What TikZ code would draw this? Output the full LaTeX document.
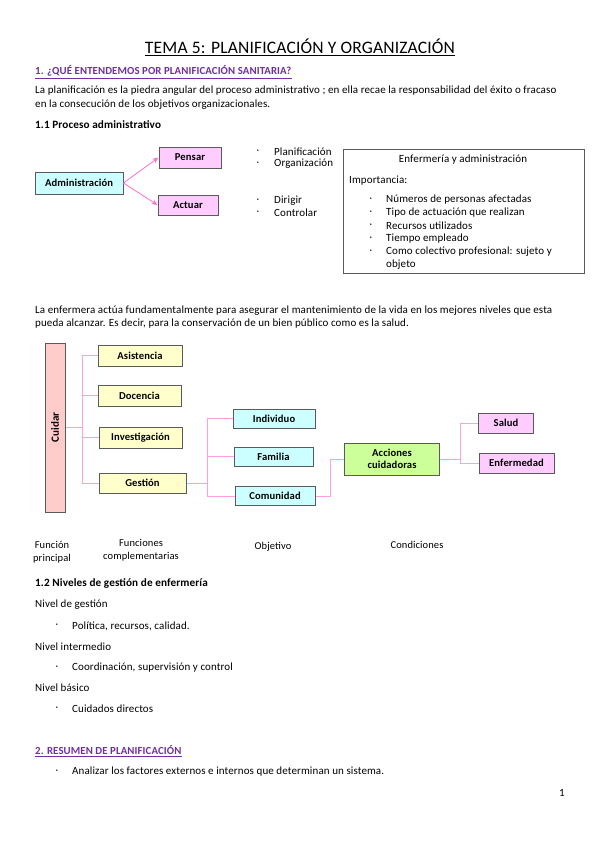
\documentclass[tikz,border=0pt]{standalone}
\usepackage{fontspec}
\setmainfont{Carlito}[LetterSpace=1]
\usetikzlibrary{arrows.meta}
\definecolor{purp}{HTML}{7030A0}
\definecolor{cyanbox}{HTML}{CCFFFF}
\definecolor{pinkbox}{HTML}{FFCCFF}
\definecolor{rosebox}{HTML}{FFCCCC}
\definecolor{yelbox}{HTML}{FFFFCC}
\definecolor{greenbox}{HTML}{CCFF99}
\definecolor{arrowpink}{HTML}{FF6FD0}
\definecolor{linepink}{HTML}{FF9FE0}
\definecolor{boxborder}{HTML}{5A5A5A}
\begin{document}
\begin{tikzpicture}[x=1pt,y=-1pt,
  txt/.style={anchor=west,inner sep=0pt,font=\fontsize{11}{13}\selectfont},
  txtc/.style={anchor=center,inner sep=0pt,align=center,font=\fontsize{10.5}{13}\selectfont},
  bold/.style={anchor=west,inner sep=0pt,font=\bfseries\fontsize{11.2}{13}\selectfont},
  head/.style={anchor=west,inner sep=0pt,text=purp,font=\bfseries\fontsize{10.8}{12}\selectfont},
  bx/.style={draw=boxborder,line width=1pt,inner sep=0pt,align=center,font=\bfseries\fontsize{10.6}{12}\selectfont},
  arr/.style={draw=arrowpink,line width=0.8pt,-{Stealth[length=6pt,width=5pt]}},
  conn/.style={draw=linepink,line width=0.9pt},
  dot/.style={anchor=center,inner sep=0pt,font=\fontsize{10}{12}\selectfont}
]
\useasboundingbox[fill=white] (0,0) rectangle (599,848);

% Title
\node[anchor=center,inner sep=0pt,font=\fontsize{17.5}{20}\selectfont] (title) at (300,46) {TEMA 5: PLANIFICACIÓN Y ORGANIZACIÓN};
\draw[line width=0.9pt] (title.south west) ++(0,2) coordinate (tul1) -- (title.south east |- tul1);

% Heading 1
\node[head] (h1) at (35,71) {1. ¿QUÉ ENTENDEMOS POR PLANIFICACIÓN SANITARIA?};
\draw[purp,line width=0.7pt] (h1.south west) ++(0,2) coordinate (hul1) -- (h1.south east |- hul1);

\node[txt] (p1a) at (35,91) {La planificación es la piedra angular del proceso administrativo ; en ella recae la responsabilidad del éxito o fracaso};
\node[txt] (p1b) at (35,105) {en la consecución de los objetivos organizacionales.};

\node[bold] (s11) at (35,125) {1.1 Proceso administrativo};

% Diagram 1
\node[bx,fill=cyanbox,minimum width=88pt,minimum height=22pt] (adm) at (79,183) {Administración};
\node[bx,fill=pinkbox,minimum width=62pt,minimum height=21pt] (pen) at (190,157.5) {Pensar};
\node[bx,fill=pinkbox,minimum width=60pt,minimum height=20pt] (act) at (188,205) {Actuar};
\draw[arr] (adm.east) -- (pen.west);
\draw[arr] (adm.east) -- (act.west);

\node[dot] (d1) at (258,152) {·};
\node[txt] (t1) at (274,152) {Planificación};
\node[dot] (d2) at (258,164) {·};
\node[txt] (t2) at (274,164) {Organización};
\node[dot] (d3) at (258,201) {·};
\node[txt] (t3) at (274,201) {Dirigir};
\node[dot] (d4) at (258,213) {·};
\node[txt] (t4) at (274,213) {Controlar};

\draw[boxborder,line width=0.8pt] (343,149) rectangle (584,273);
\node[txtc,font=\fontsize{11}{13}\selectfont] (ea) at (463,160) {Enfermería y administración};
\node[txt] (imp) at (349,181) {Importancia:};
\foreach \yy/\tt/\nm in {200/{Números de personas afectadas}/a,213/{Tipo de actuación que realizan}/b,226/{Recursos utilizados}/c,239/{Tiempo empleado}/d,252/{Como colectivo profesional: sujeto y}/e,265/{objeto}/f}{
  \node[txt] (imp\nm) at (386,\yy) {\tt};
}
\foreach \yy/\nm in {200/a,213/b,226/c,239/d,252/e}{
  \node[dot] (impd\nm) at (371,\yy) {·};
}

\node[txt] (p2a) at (35,311) {La enfermera actúa fundamentalmente para asegurar el mantenimiento de la vida en los mejores niveles que esta};
\node[txt] (p2b) at (35,324) {pueda alcanzar. Es decir, para la conservación de un bien público como es la salud.};

% Diagram 2
\node[bx,fill=rosebox,minimum width=20pt,minimum height=169pt] (cui) at (55,427.5) {};
\node[rotate=90,font=\bfseries\fontsize{11}{12}\selectfont,inner sep=0pt] (cuit) at (cui.center) {Cuidar};
\node[bx,fill=yelbox,minimum width=84pt,minimum height=21pt] (asi) at (140,355.5) {Asistencia};
\node[bx,fill=yelbox,minimum width=83pt,minimum height=21pt] (doc) at (139.5,395.5) {Docencia};
\node[bx,fill=yelbox,minimum width=83pt,minimum height=21pt] (inv) at (140.5,437.5) {Investigación};
\node[bx,fill=yelbox,minimum width=87pt,minimum height=20pt] (ges) at (142.5,483) {Gestión};

\coordinate (b1) at (82,0);
\draw[conn] (cui.east) -- (b1 |- cui.east);
\draw[conn] (b1 |- asi.west) -- (b1 |- ges.west);
\draw[conn] (b1 |- asi.west) -- (asi.west);
\draw[conn] (b1 |- doc.west) -- (doc.west);
\draw[conn] (b1 |- inv.west) -- (inv.west);
\draw[conn] (b1 |- ges.west) -- (ges.west);

\node[bx,fill=cyanbox,minimum width=82pt,minimum height=19pt] (ind) at (274,418.5) {Individuo};
\node[bx,fill=cyanbox,minimum width=79pt,minimum height=19pt] (fam) at (273.5,456.5) {Familia};
\node[bx,fill=cyanbox,minimum width=80pt,minimum height=19pt] (com) at (275,496) {Comunidad};

\coordinate (b2) at (207,0);
\draw[conn] (ges.east) -- (b2 |- ges.east);
\draw[conn] (b2 |- ind.west) -- (b2 |- com.west);
\draw[conn] (b2 |- ind.west) -- (ind.west);
\draw[conn] (b2 |- fam.west) -- (fam.west);
\draw[conn] (b2 |- com.west) -- (com.west);

\node[bx,fill=greenbox,minimum width=95pt,minimum height=32pt,font=\bfseries\fontsize{10.6}{12.5}\selectfont] (acc) at (392,459) {Acciones\\cuidadoras};
\coordinate (b3) at (330,0);
\draw[conn] (com.east) -- (b3 |- com.east) -- (b3 |- acc.west) -- (acc.west);

\node[bx,fill=pinkbox,minimum width=55pt,minimum height=20pt] (sal) at (506,423) {Salud};
\node[bx,fill=pinkbox,minimum width=75pt,minimum height=20pt] (enf) at (516.5,463) {Enfermedad};
\coordinate (b4) at (460,0);
\draw[conn] (acc.east) -- (b4 |- acc.east);
\draw[conn] (b4 |- sal.west) -- (b4 |- enf.west);
\draw[conn] (b4 |- sal.west) -- (sal.west);
\draw[conn] (b4 |- enf.west) -- (enf.west);

\node[txtc] (l1) at (52,552.5) {Función\\principal};
\node[txtc] (l2) at (141,550.5) {Funciones\\complementarias};
\node[txtc] (l3) at (273,547) {Objetivo};
\node[txtc] (l4) at (417,545) {Condiciones};

% 1.2
\node[bold] (s12) at (35,584) {1.2 Niveles de gestión de enfermería};
\node[txt] (n1) at (35,605) {Nivel de gestión};
\node[dot] (nd1) at (57,626) {·};
\node[txt] (n1a) at (72,626) {Política, recursos, calidad.};
\node[txt] (n2) at (35,647) {Nivel intermedio};
\node[dot] (nd2) at (57,668) {·};
\node[txt] (n2a) at (72,668) {Coordinación, supervisión y control};
\node[txt] (n3) at (35,688) {Nivel básico};
\node[dot] (nd3) at (57,709) {·};
\node[txt] (n3a) at (72,709) {Cuidados directos};

% Heading 2
\node[head] (h2) at (35,750) {2. RESUMEN DE PLANIFICACIÓN};
\draw[purp,line width=0.7pt] (h2.south west) ++(0,2) coordinate (hul2) -- (h2.south east |- hul2);
\node[dot] (nd4) at (57,772) {·};
\node[txt] (r1) at (72,772) {Analizar los factores externos e internos que determinan un sistema.};

\node[txtc,font=\fontsize{11}{13}\selectfont] (pg) at (562,793) {1};
\end{tikzpicture}
\end{document}
